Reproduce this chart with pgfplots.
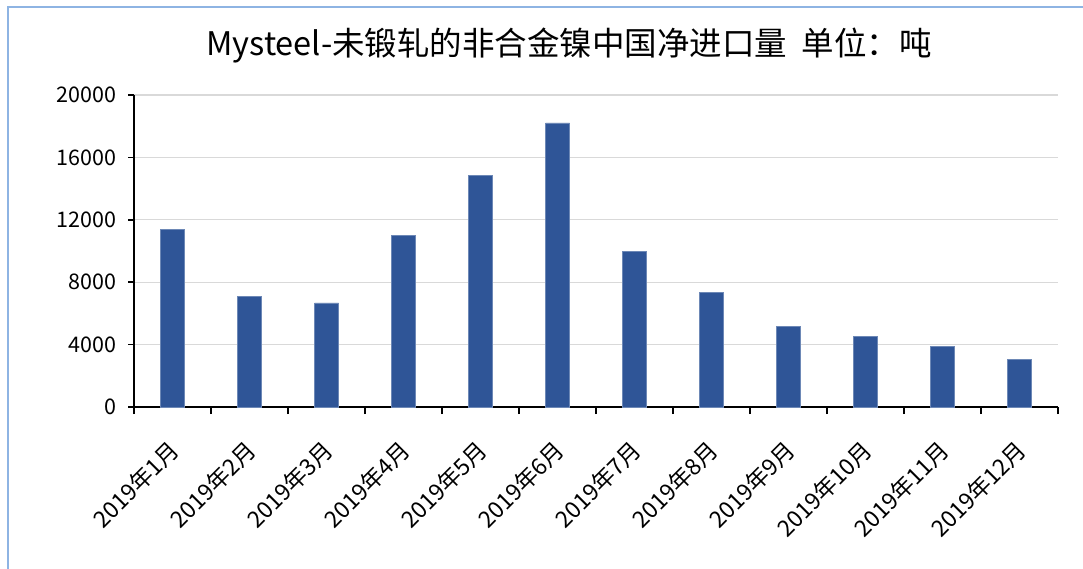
\documentclass[border=0pt]{standalone}
\usepackage{fontspec}
\setmainfont{Noto Sans CJK SC}
\usepackage{pgfplots}
\pgfplotsset{compat=1.18}
\definecolor{barblue}{HTML}{2F5597}
\definecolor{gridgray}{HTML}{D9D9D9}
\definecolor{frameblue}{HTML}{8EB4E3}
\begin{document}
\begin{tikzpicture}[x=1pt,y=1pt]
\path[use as bounding box] (0,0) rectangle (1083,568);
\draw[frameblue, line width=1.5pt] (8,-5) -- (8,561) -- (1095,561);
\node[font=\fontsize{32.5}{36}\selectfont] at (569,522) {Mysteel-未锻轧的非合金镍中国净进口量\ \ 单位：吨};
\begin{axis}[
  at={(134pt,161pt)}, anchor=south west,
  scale only axis, width=924pt, height=312pt,
  xmin=-0.5, xmax=11.5, ymin=0, ymax=20000,
  ytick={0,4000,...,20000},
  xtick={0,...,11},
  xticklabels={2019年1月,2019年2月,2019年3月,2019年4月,2019年5月,2019年6月,2019年7月,2019年8月,2019年9月,2019年10月,2019年11月,2019年12月},
  minor xtick={-0.5,0.5,...,11.5},
  x tick style={draw=none},
  minor x tick style={draw=black, line width=1.6pt},
  minor tick length=7pt,
  major tick length=6pt,
  tick align=outside,
  y tick style={draw=black, line width=1.6pt},
  axis x line*=bottom, axis y line*=left,
  axis line style={black, line width=1.6pt},
  ymajorgrids, grid style={gridgray, line width=1.2pt},
  scaled y ticks=false,
  /pgf/number format/assume math mode=true,
  yticklabel style={/pgf/number format/1000 sep={}, font=\fontsize{21.5}{24}\selectfont, xshift=-8pt},
  xticklabel style={rotate=45, anchor=north east, font=\fontsize{23}{26}\selectfont, yshift=-10.6pt, xshift=-17.7pt},
  ybar, bar width=24pt,
]
\addplot[fill=barblue, draw=barblue!70!white, line width=0.5pt] coordinates {
(0,11363) (1,7102) (2,6673) (3,11004) (4,14843) (5,18209)
(6,9981) (7,7358) (8,5182) (9,4542) (10,3903) (11,3046)};
\end{axis}
\end{tikzpicture}
\end{document}
